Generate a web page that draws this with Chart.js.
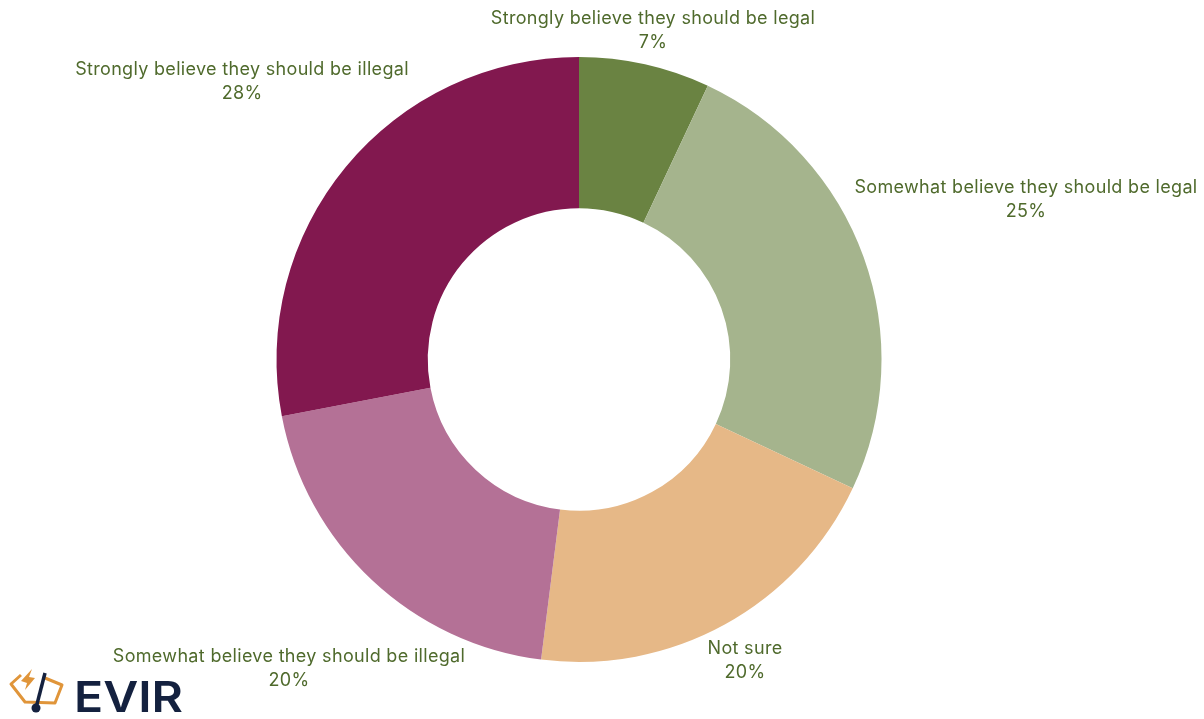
<!DOCTYPE html>
<html>
<head>
<meta charset="utf-8">
<title>Legality opinion</title>
<script src="https://cdn.jsdelivr.net/npm/chart.js@4"></script>
<style>
    html, body { margin: 0; padding: 0; background: #fff; overflow: hidden; }
    #wrap { position: relative; width: 1204px; height: 719px; }
    #logo { position: absolute; left: 0; top: 660px; }
</style>
</head>
<body>
<div id="wrap">
    <canvas id="myChart" width="1204" height="719"></canvas>
    <svg id="logo" width="200" height="59" viewBox="0 0 200 59">
        <path d="M21 15 L11 24 L25 42 L55 43 L62 25 L45 18" fill="none" stroke="#e0953a" stroke-width="3" stroke-linejoin="round"/>
        <path d="M32 9 L21 21 L27 23 L25 30 L35 18 L29 17 Z" fill="#e0953a"/>
        <path d="M45 13 L36 48" stroke="#14213f" stroke-width="3.5"/>
        <circle cx="36" cy="48" r="4.5" fill="#14213f"/>
        <text x="74" y="52" font-family="Inter, Liberation Sans, sans-serif" font-size="43" font-weight="600" fill="#14213f" textLength="109" lengthAdjust="spacingAndGlyphs">EVIR</text>
    </svg>
</div>
<script>
// Survey answers, clockwise from the top
const categories = [
    "Strongly believe they should be legal",
    "Somewhat believe they should be legal",
    "Not sure",
    "Somewhat believe they should be illegal",
    "Strongly believe they should be illegal",
];
const shares = [7, 25, 20, 20, 28];
const sliceColors = ["#6a8342", "#a5b48d", "#e6b887", "#b47196", "#82184f"];

// Centre of each two line label, in canvas pixels
const labelSpots = [
    [653, 30],
    [1026, 199],
    [745, 660],
    [289, 668],
    [242, 81],
];

// Writes "name / value%" next to each slice
const sliceLabels = {
    id: "sliceLabels",
    afterDraw(chart) {
        const ctx = chart.ctx;
        ctx.save();
        ctx.font = "18px Inter, sans-serif";
        ctx.letterSpacing = "0.32px";
        ctx.fillStyle = "#4f6a2c";
        ctx.textAlign = "center";
        ctx.textBaseline = "middle";
        categories.forEach((name, i) => {
            const [x, y] = labelSpots[i];
            ctx.fillText(name, x, y - 11);
            ctx.fillText(shares[i] + "%", x, y + 13);
        });
        ctx.restore();
    },
};

new Chart(document.getElementById("myChart"), {
    type: "doughnut",
    data: {
        labels: categories,
        datasets: [{
            data: shares,
            backgroundColor: sliceColors,
            borderWidth: 0,
        }],
    },
    options: {
        responsive: false,
        animation: false,
        cutout: "50%",
        layout: { padding: { left: 276, right: 322, top: 57, bottom: 57 } },
        plugins: {
            legend: { display: false },
            tooltip: { enabled: false },
        },
    },
    plugins: [sliceLabels],
});
</script>
</body>
</html>
